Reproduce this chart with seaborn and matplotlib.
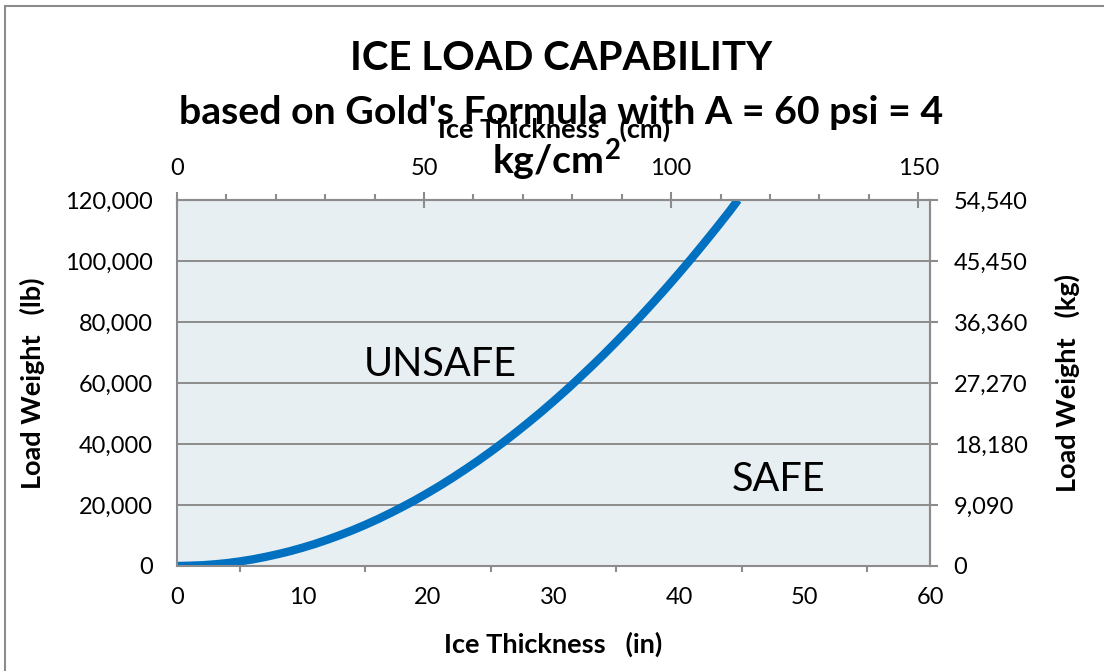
import numpy as np
import matplotlib
matplotlib.use("Agg")
import matplotlib.pyplot as plt
import matplotlib.ticker as mticker
from matplotlib.patches import Rectangle
import seaborn as sns
import pandas as pd

# values
thickness_in = [0, 1, 2, 3, 4, 5, 6, 7, 8, 9, 10, 11, 12, 13, 14, 15, 16, 17,
                18, 19, 20, 21, 22, 23, 24, 25, 26, 27, 28, 29, 30, 31, 32, 33,
                34, 35, 36, 37, 38, 39, 40, 41, 42, 43, 44, 44.7]
load_lb = [0, 100, 250, 550, 950, 1500, 2150, 2950, 3850, 4850, 6000, 7250,
           8650, 10150, 11750, 13500, 15350, 17350, 19450, 21650, 24000, 26450,
           29050, 31750, 34550, 37500, 40550, 43750, 47050, 50450, 54000, 57650,
           61450, 65350, 69350, 73500, 77750, 82150, 86650, 91250, 96000,
           100850, 105850, 110950, 116150, 120000]
lb_ticks = [0, 20000, 40000, 60000, 80000, 100000, 120000]
kg_ticks = [0, 9090, 18180, 27270, 36360, 45450, 54540]
in_ticks = [0, 10, 20, 30, 40, 50, 60]
cm_ticks = [0, 50, 100, 150]
cm_per_in = 2.54
kg_per_lb = 0.4545

df = pd.DataFrame({"in": thickness_in, "lb": load_lb})

sns.set_style("white")
plt.rcParams["font.family"] = ["Lato", "DejaVu Sans"]
plt.rcParams["text.color"] = "black"
plt.rcParams["axes.labelcolor"] = "black"
plt.rcParams["mathtext.fontset"] = "custom"
plt.rcParams["mathtext.bf"] = "Lato:bold"
plt.rcParams["mathtext.rm"] = "Lato"

W, H = 1104, 671
fig = plt.figure(figsize=(W / 100, H / 100), dpi=100)
ax = fig.add_axes([177 / W, 1 - 566 / H, (930 - 177) / W, (566 - 200) / H])

grey = "#8c8c8c"
ax.set_facecolor("#e8eff3")
sns.lineplot(data=df, x="in", y="lb", ax=ax, color="#0070c0", linewidth=6,
             solid_capstyle="butt")

ax.set_xlim(0, 60)
ax.set_ylim(0, 120000)
ax.set_xticks(in_ticks)
ax.xaxis.set_minor_locator(mticker.MultipleLocator(5))
ax.set_yticks(lb_ticks)
ax.yaxis.set_major_formatter(mticker.StrMethodFormatter("{x:,.0f}"))
ax.grid(axis="y", color=grey, linewidth=1.4)
ax.set_axisbelow(True)
for s in ax.spines.values():
    s.set_color(grey)
    s.set_linewidth(1.5)
    s.set_visible(True)

ax.tick_params(axis="x", which="major", direction="inout", length=12, width=1.5,
               color=grey, labelcolor="black", labelsize=17, pad=9)
ax.tick_params(axis="x", which="minor", direction="out", length=4.5, width=1.5,
               color=grey, bottom=True)
ax.tick_params(axis="y", which="major", direction="out", length=6.5, width=1.5,
               color=grey, labelcolor="black", labelsize=17, pad=11)
ax.set_xlabel("Ice Thickness   (in)", fontsize=19.5, fontweight="bold", labelpad=17)
ax.set_ylabel("Load Weight   (lb)", fontsize=19.5, fontweight="bold", labelpad=14)

# top axis in cm
top = ax.secondary_xaxis("top", functions=(lambda x: x * cm_per_in, lambda x: x / cm_per_in))
top.set_xticks(cm_ticks)
top.xaxis.set_minor_locator(mticker.MultipleLocator(10))
top.spines["top"].set_color(grey)
top.spines["top"].set_linewidth(1.5)
top.tick_params(axis="x", which="major", direction="inout", length=12, width=1.5,
                color=grey, labelcolor="black", labelsize=17, pad=9)
top.tick_params(axis="x", which="minor", direction="out", length=4.5, width=1.5,
                color=grey)
top.set_xlabel("Ice Thickness   (cm)", fontsize=19.5, fontweight="bold", labelpad=15)

# right axis in kg
right = ax.secondary_yaxis("right", functions=(lambda y: y * kg_per_lb, lambda y: y / kg_per_lb))
right.set_yticks(kg_ticks)
right.yaxis.set_major_formatter(mticker.StrMethodFormatter("{x:,.0f}"))
right.spines["right"].set_color(grey)
right.spines["right"].set_linewidth(1.5)
right.tick_params(axis="y", direction="out", length=6, width=1.5, color=grey,
                  labelcolor="black", labelsize=17, pad=11)
right.set_ylabel("Load Weight   (kg)", fontsize=19.5, fontweight="bold", labelpad=19)

ax.text(21, 66000, "UNSAFE", fontsize=28.5, ha="center", va="center")
ax.text(47.9, 28300, "SAFE", fontsize=28.5, ha="center", va="center")

fig.text(561 / W, 1 - 58 / H, "ICE LOAD CAPABILITY", fontsize=29,
         fontweight="bold", ha="center", va="center")
fig.text(561 / W, 1 - 112 / H, "based on Gold's Formula with A = 60 psi = 4",
         fontsize=28.3, fontweight="bold", ha="center", va="center")
fig.text(556 / W, 1 - 160 / H, r"kg/cm$\mathbf{^2}$", fontsize=28.3,
         fontweight="bold", ha="center", va="center")

fig.add_artist(Rectangle((5 / W, -0.1), 1.2, 1.1 - 6 / H, transform=fig.transFigure,
                         fill=False, edgecolor="#8c8c8c", linewidth=1.5))

fig.savefig("out.png", dpi=100)
